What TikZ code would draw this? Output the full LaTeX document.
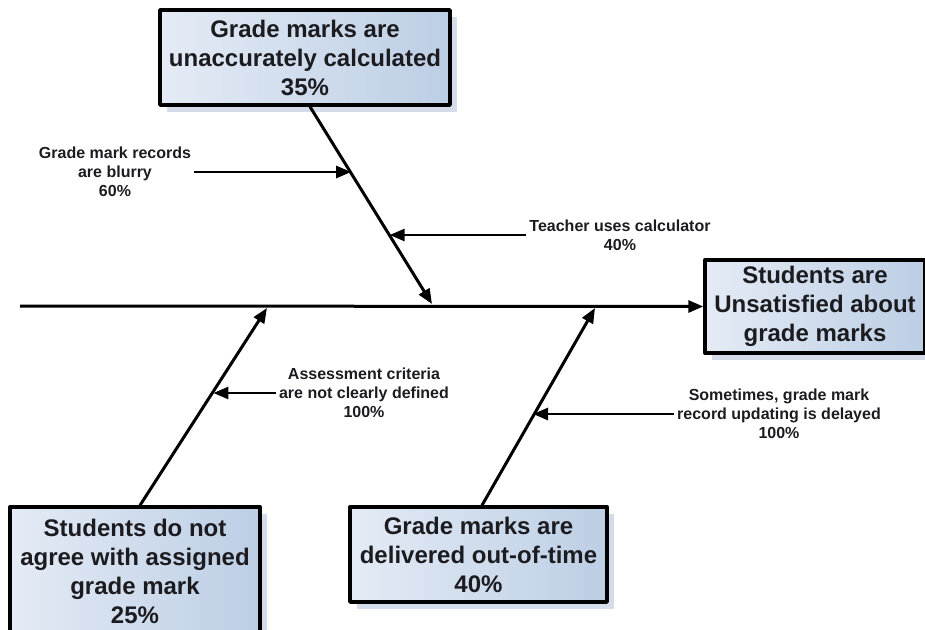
\documentclass[tikz,border=0pt]{standalone}
\usepackage{fontspec}
\setmainfont{Liberation Sans}
\usetikzlibrary{arrows.meta,shadows}
\definecolor{boxleft}{RGB}{228,235,245}
\definecolor{boxright}{RGB}{188,206,229}
\definecolor{shadowblue}{RGB}{212,220,233}
\definecolor{inkgray}{RGB}{28,28,32}
\tikzset{
  fishbox/.style={draw=black,line width=3.4pt,left color=boxleft,right color=boxright,
    text=inkgray,align=center,inner sep=0pt,font=\fontsize{24}{29}\selectfont\bfseries,
    drop shadow={shadow xshift=7pt,shadow yshift=-7pt,fill=shadowblue,opacity=1}},
  causelabel/.style={align=center,text=inkgray,inner sep=3pt,
    font=\fontsize{16}{19}\selectfont\bfseries},
  bone/.style={line width=3pt,-{Triangle[length=15pt,width=12pt]}},
  twig/.style={line width=2.8pt,-{Triangle[length=15pt,width=12pt]}}
}
\begin{document}
\begin{tikzpicture}[x=1pt,y=-1pt,line join=round]
\clip (0,0) rectangle (925,629);
% boxes
\node[fishbox,minimum width=290pt,minimum height=95pt] (causeA) at (305,57.5) {Grade marks are\\unaccurately calculated\\35\%};
\node[fishbox,minimum width=220pt,minimum height=93pt] (effect) at (815,306.5) {Students are\\Unsatisfied about\\grade marks};
\node[fishbox,minimum width=250pt,minimum height=128pt] (causeC) at (135,571) {Students do not\\agree with assigned\\grade mark\\25\%};
\node[fishbox,minimum width=257pt,minimum height=95pt] (causeD) at (478.5,554.5) {Grade marks are\\delivered out-of-time\\40\%};
% spine
\coordinate (tail) at (20,306);
\draw[bone] (tail) -- (effect.west);
% bones
\coordinate (boneA) at ([xshift=5pt]causeA.south);
\coordinate (boneC) at ([xshift=5pt]causeC.north);
\coordinate (boneD) at ([xshift=3.5pt]causeD.north);
\coordinate (jointA) at (432,304);
\coordinate (jointC) at (267,308);
\coordinate (jointD) at (595,308);
\draw[bone] (boneA) -- (jointA);
\draw[bone] (boneC) -- (jointC);
\draw[bone] (boneD) -- (jointD);
\path (boneA) -- (jointA) coordinate[pos=0.337] (hitA1) coordinate[pos=0.653] (hitA2);
\path (boneC) -- (jointC) coordinate[pos=0.578] (hitC1);
\path (boneD) -- (jointD) coordinate[pos=0.452] (hitD1);
% sub causes
\node[causelabel] (lblA1) at (115,172) {Grade mark records\\are blurry\\60\%};
\node[causelabel] (lblA2) at (620,235) {Teacher uses calculator\\40\%};
\node[causelabel] (lblC1) at (364,393) {Assessment criteria\\are not clearly defined\\100\%};
\node[causelabel] (lblD1) at (779,414) {Sometimes, grade mark\\record updating is delayed\\100\%};
\draw[twig] (lblA1.east) -- (lblA1.east -| hitA1);
\draw[twig] (lblA2.west) -- (lblA2.west -| hitA2);
\draw[twig] (lblC1.west) -- (lblC1.west -| hitC1);
\draw[twig] (lblD1.west) -- (lblD1.west -| hitD1);
\end{tikzpicture}
\end{document}
